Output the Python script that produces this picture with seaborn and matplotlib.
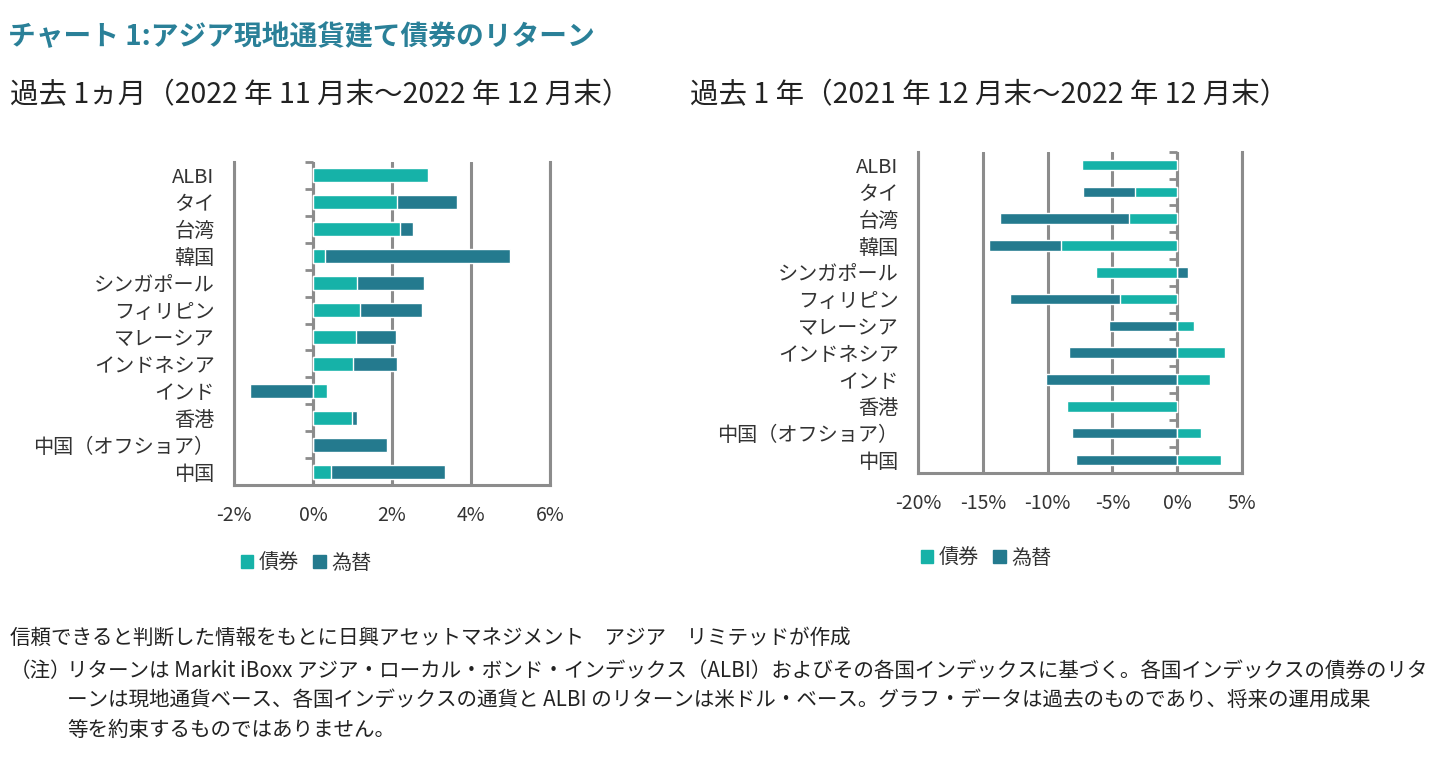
import numpy as np
import pandas as pd
import matplotlib
matplotlib.use('Agg')
import matplotlib.pyplot as plt
from matplotlib.patches import Patch
from matplotlib.ticker import FuncFormatter
import seaborn as sns

categories = ['ALBI', 'タイ', '台湾', '韓国', 'シンガポール', 'フィリピン', 'マレーシア',
              'インドネシア', 'インド', '香港', '中国（オフショア）', '中国']

# 過去1ヵ月 (%)
bond_1m = [2.92, 2.13, 2.20, 0.30, 1.11, 1.19, 1.09, 1.00, 0.36, 0.98, 0.0, 0.45]
fx_1m = [0.0, 1.51, 0.34, 4.68, 1.71, 1.58, 1.00, 1.12, -1.59, 0.14, 1.88, 2.88]

# 過去1年 (%)
bond_1y = [-7.34, -3.28, -3.70, -8.93, -6.30, -4.38, 1.27, 3.70, 2.54, -8.52, 1.83, 3.37]
fx_1y = [0.0, -4.00, -9.97, -5.56, 0.80, -8.52, -5.30, -8.37, -10.15, 0.0, -8.14, -7.78]

BOND_C = '#16b2a8'
FX_C = '#247a8e'
GRID = '#8c8c8c'
TXT = '#333333'
TITLE_C = '#2a8098'

sns.set_style('white')
plt.rcParams['font.family'] = ['Noto Sans CJK JP', 'DejaVu Sans']
plt.rcParams['axes.unicode_minus'] = False

W, H = 1453, 779
fig = plt.figure(figsize=(W / 100, H / 100), dpi=100)


def draw_panel(rect, bond, fx, xmin, xmax, step, bar_w):
    ax = fig.add_axes(rect)
    df = pd.DataFrame({'cat': categories, 'bond': bond, 'fx': fx})
    # 同符号なら積み上げ、異符号なら0から反対側へ
    df['outer'] = np.where(df['bond'] * df['fx'] > 0, df['bond'] + df['fx'], df['fx'])
    sns.barplot(data=df, x='outer', y='cat', color=FX_C, saturation=1,
                width=bar_w, errorbar=None, ax=ax)
    sns.barplot(data=df, x='bond', y='cat', color=BOND_C, saturation=1,
                width=bar_w, errorbar=None, ax=ax)
    n = len(categories)
    ax.set_xlim(xmin, xmax)
    ax.set_ylim(n - 0.5, -0.5)
    ax.set_xticks(np.arange(xmin, xmax + step / 2, step))
    ax.xaxis.set_major_formatter(FuncFormatter(lambda v, p: f'{v:.0f}%'))
    ax.set_xlabel('')
    ax.set_ylabel('')
    ax.grid(axis='x', color=GRID, lw=2.2)
    ax.grid(axis='y', visible=False)
    ax.set_axisbelow(True)
    ax.spines['top'].set_visible(False)
    for s in ['left', 'right', 'bottom']:
        ax.spines[s].set_color(GRID)
        ax.spines[s].set_linewidth(2.2)
    ax.tick_params(axis='x', length=4, width=2.2, color=GRID, labelsize=14,
                   labelcolor=TXT, pad=10)
    ax.tick_params(axis='y', length=0, pad=14, labelsize=14.5, labelcolor=TXT)
    ax.axvline(0, color=GRID, lw=2.2, zorder=0.6)
    ax.plot(np.zeros(n + 1), np.arange(n + 1) - 0.5, ls='none', marker=0,
            ms=6, mew=2, color=GRID, zorder=0.6, clip_on=False)
    return ax


draw_panel([234 / W, 1 - 485.5 / H, 316 / W, 324 / H], bond_1m, fx_1m, -2, 6, 2, 0.5)
draw_panel([918 / W, 1 - 473.3 / H, 324 / W, 321.6 / H], bond_1y, fx_1y, -20, 5, 5, 0.4)

handles = [Patch(color=BOND_C, label='債券'), Patch(color=FX_C, label='為替')]
for x0, y0 in [(241, 563), (921, 558)]:
    fig.legend(handles=handles, loc='center left', bbox_to_anchor=(x0 / W, 1 - y0 / H),
               ncol=2, frameon=False, fontsize=14.5, handlelength=0.6, handleheight=0.6,
               handletextpad=0.3, columnspacing=0.7, borderpad=0, borderaxespad=0,
               labelcolor=TXT)

fig.text(8 / W, 1 - 37 / H, 'チャート 1:アジア現地通貨建て債券のリターン',
         fontsize=20, weight='bold', color=TITLE_C, va='center')
fig.text(10 / W, 1 - 95 / H, '過去 1ヵ月（2022 年 11 月末～2022 年 12 月末）',
         fontsize=20.5, color='#222222', va='center')
fig.text(690 / W, 1 - 95 / H, '過去 1 年（2021 年 12 月末～2022 年 12 月末）',
         fontsize=20.5, color='#222222', va='center')

fig.text(10 / W, 1 - 638 / H,
         '信頼できると判断した情報をもとに日興アセットマネジメント　アジア　リミテッドが作成',
         fontsize=14.8, color='#222222', va='center')
fig.text(10 / W, 1 - 671 / H, '（注）', fontsize=14.8, color='#222222', va='center')
notes = ['リターンは Markit iBoxx アジア・ローカル・ボンド・インデックス（ALBI）およびその各国インデックスに基づく。各国インデックスの債券のリタ',
         'ーンは現地通貨ベース、各国インデックスの通貨と ALBI のリターンは米ドル・ベース。グラフ・データは過去のものであり、将来の運用成果',
         '等を約束するものではありません。']
for line, y in zip(notes, [671, 700, 730]):
    fig.text(67 / W, 1 - y / H, line, fontsize=14.8, color='#222222', va='center')

fig.savefig('out.png', dpi=100)
